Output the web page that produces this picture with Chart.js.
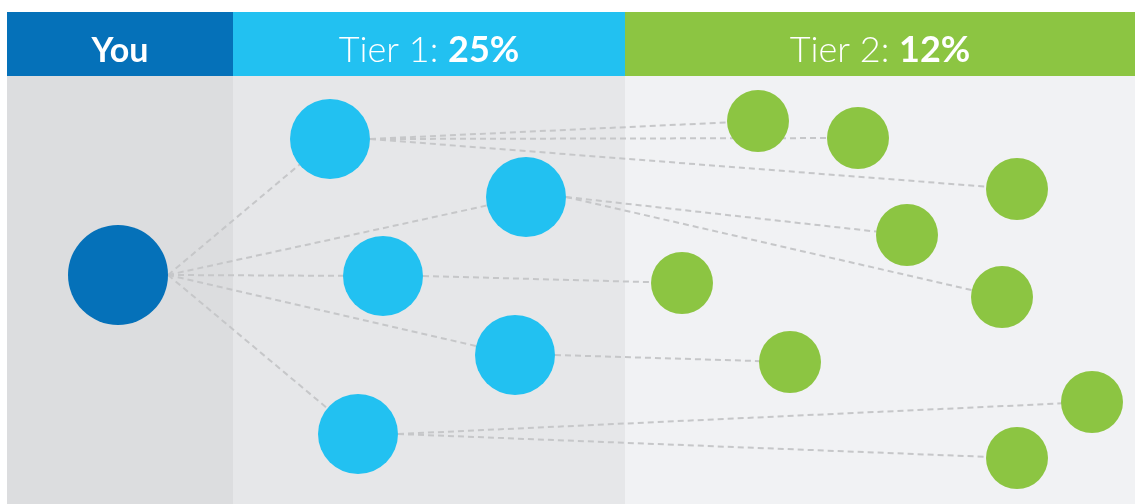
<!DOCTYPE html>
<html>
<head>
<meta charset="utf-8">
<script src="https://cdn.jsdelivr.net/npm/chart.js@4"></script>
<style>
  html, body { margin: 0; padding: 0; background: #fff; }
  #wrap { width: 1135px; height: 504px; }
</style>
</head>
<body>
<div id="wrap"><canvas id="tiers" width="1135" height="504"></canvas></div>
<script>
// columns
const tierNames = ["You", "Tier 1: ", "Tier 2: "];
const tierRates = ["", "25%", "12%"];
const columnEdges = [7, 233, 625, 1135];
const headerTop = 12;
const headerBottom = 76;

// nodes (diagram units)
const youX = [118];
const youY = [275];
const tier1X = [330, 526, 383, 515, 358];
const tier1Y = [139, 197, 276, 355, 434];
const tier2X = [758, 858, 1017, 907, 682, 1002, 790, 1092, 1017];
const tier2Y = [121, 138, 189, 235, 283, 297, 362, 402, 458];

// links: tier1 index -> tier2 indexes
const tier1Links = [[0, 1, 2], [3, 5], [4], [6], [7, 8]];

const headerColors = ["#0571b9", "#22c1f1", "#8cc542"];
const bandColors = ["#dcdddf", "#e6e7e9", "#f1f2f4"];
const nodeRadius = [50, 40, 31];
const lineColor = "#c6c7c9";

function pts(xs, ys) {
  return xs.map((x, i) => ({ x: x, y: ys[i] }));
}

const linkSets = [];
function addLink(x1, y1, x2, y2) {
  linkSets.push({
    type: "line",
    data: [{ x: x1, y: y1 }, { x: x2, y: y2 }],
    borderColor: lineColor,
    borderWidth: 2,
    borderDash: [6, 4],
    pointRadius: 0,
    fill: false,
    clip: false,
    order: 2
  });
}
tier1X.forEach((x, i) => {
  addLink(youX[0] + nodeRadius[0], youY[0], x, tier1Y[i]);
  tier1Links[i].forEach((j) => {
    addLink(x + nodeRadius[1], tier1Y[i], tier2X[j], tier2Y[j]);
  });
});

function nodeSet(xs, ys, i) {
  return {
    type: "scatter",
    data: pts(xs, ys),
    backgroundColor: headerColors[i],
    pointRadius: nodeRadius[i],
    pointHoverRadius: nodeRadius[i],
    borderWidth: 0,
    clip: false,
    order: 1
  };
}
const nodeSets = [nodeSet(youX, youY, 0), nodeSet(tier1X, tier1Y, 1), nodeSet(tier2X, tier2Y, 2)];

const columnsPlugin = {
  id: "columns",
  beforeDatasetsDraw(chart) {
    const ctx = chart.ctx;
    const xs = chart.scales.x, ys = chart.scales.y;
    ctx.save();
    for (let i = 0; i < tierNames.length; i++) {
      const l = xs.getPixelForValue(columnEdges[i]);
      const r = xs.getPixelForValue(columnEdges[i + 1]);
      const t = ys.getPixelForValue(headerTop);
      const m = ys.getPixelForValue(headerBottom);
      const b = ys.getPixelForValue(504);
      ctx.fillStyle = bandColors[i];
      ctx.fillRect(l, m, r - l, b - m);
      ctx.fillStyle = headerColors[i];
      ctx.fillRect(l, t, r - l, m - t);

      // header label, baseline near the cap bottom of the reference
      const cx = (l + r) / 2, base = t + 50;
      ctx.fillStyle = "#ffffff";
      ctx.textBaseline = "alphabetic";
      ctx.textAlign = "left";
      if (tierRates[i] === "") {
        ctx.font = "bold 34px Lato";
        const w = ctx.measureText(tierNames[i]).width;
        ctx.fillText(tierNames[i], cx - w / 2, base);
      } else {
        ctx.font = "300 36px Lato";
        const w1 = ctx.measureText(tierNames[i]).width;
        ctx.font = "bold 36px Lato";
        const w2 = ctx.measureText(tierRates[i]).width;
        const sx = cx - (w1 + w2) / 2;
        ctx.font = "300 36px Lato";
        ctx.fillText(tierNames[i], sx, base);
        ctx.font = "bold 36px Lato";
        ctx.fillText(tierRates[i], sx + w1, base);
      }
    }
    ctx.restore();
  }
};

new Chart(document.getElementById("tiers"), {
  data: { datasets: linkSets.concat(nodeSets) },
  options: {
    responsive: false,
    animation: false,
    layout: { padding: 0, autoPadding: false },
    plugins: { legend: { display: false }, tooltip: { enabled: false } },
    scales: {
      x: { type: "linear", min: 0, max: 1135, display: false },
      y: { type: "linear", min: 0, max: 504, reverse: true, display: false }
    },
    elements: { line: { tension: 0 } }
  },
  plugins: [columnsPlugin]
});
</script>
</body>
</html>
